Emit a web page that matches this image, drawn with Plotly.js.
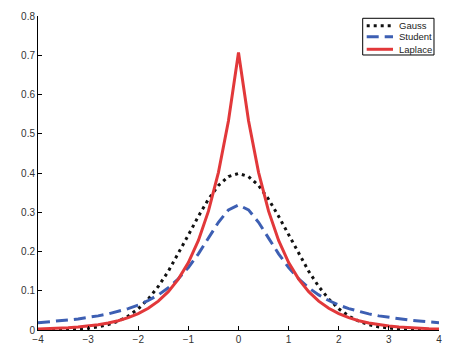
<!DOCTYPE html>
<html>
<head>
<meta charset="utf-8">
<script src="https://cdn.plot.ly/plotly-3.0.1.min.js"></script>
<style>html,body{margin:0;padding:0;background:#fff;}#chart{width:462px;height:356px;}</style>
</head>
<body>
<div id="chart"></div>
<script>
const xs = [-4,-3.8,-3.6,-3.4,-3.2,-3,-2.8,-2.6,-2.4,-2.2,-2,-1.8,-1.6,-1.4,-1.2,-1,-0.8,-0.6,-0.4,-0.2,0,
  0.2,0.4,0.6,0.8,1,1.2,1.4,1.6,1.8,2,2.2,2.4,2.6,2.8,3,3.2,3.4,3.6,3.8,4];
const gaussHalf = [0.3989,0.3910,0.3683,0.3332,0.2897,0.2420,0.1942,0.1497,0.1109,0.0790,0.0540,0.0355,0.0224,0.0136,0.0079,0.0044,0.0024,0.0012,0.0006,0.0003,0.0001];
const studentHalf = [0.3183,0.3061,0.2744,0.2341,0.1941,0.1592,0.1305,0.1075,0.0894,0.0751,0.0637,0.0545,0.0471,0.0410,0.0360,0.0318,0.0283,0.0253,0.0228,0.0206,0.0187];
const laplaceHalf = [0.7071,0.5329,0.4016,0.3027,0.2281,0.1719,0.1296,0.0976,0.0736,0.0555,0.0418,0.0315,0.0237,0.0179,0.0135,0.0102,0.0077,0.0058,0.0044,0.0033,0.0025];
const seriesNames = ["Gauss","Student","Laplace"];
const xTicks = [-4,-3,-2,-1,0,1,2,3,4];
const yTicks = [0,0.1,0.2,0.3,0.4,0.5,0.6,0.7,0.8];

function mirror(h){ return h.slice(1).reverse().concat(h); }
const gauss = mirror(gaussHalf), student = mirror(studentHalf), laplace = mirror(laplaceHalf);

const lineStyles = [
  {color: '#111111', width: 3, dash: '3px,4px'},
  {color: '#3d5fb3', width: 3, dash: '12px,6px'},
  {color: '#e2383a', width: 3}
];
const ySeries = [gauss, student, laplace];
const traces = ySeries.map((ys, i) => ({x: xs, y: ys, name: seriesNames[i], mode: 'lines', line: lineStyles[i], showlegend: false}));

// Compact legend box (paper coordinates)
const legBox = {x0: 0.8097, x1: 0.9875, y0: 0.8758, y1: 0.9927};
const legRows = [0.9691, 0.9341, 0.8940];
const shapes = [{type: 'rect', xref: 'paper', yref: 'paper', x0: legBox.x0, x1: legBox.x1, y0: legBox.y0, y1: legBox.y1,
  line: {color: '#000', width: 1}, fillcolor: '#fff', layer: 'above'}];
const annotations = [];
seriesNames.forEach((n, i) => {
  shapes.push({type: 'line', xref: 'paper', yref: 'paper', x0: 0.8197, x1: 0.8853, y0: legRows[i], y1: legRows[i],
    line: Object.assign({}, lineStyles[i]), layer: 'above'});
  annotations.push({xref: 'paper', yref: 'paper', x: 0.8953, y: legRows[i], xanchor: 'left', yanchor: 'middle',
    text: n, showarrow: false, font: {family: 'Liberation Sans, Arial, sans-serif', size: 9.5, color: '#222'}});
});

const axisCommon = {
  showline: true, linecolor: '#000', linewidth: 1, mirror: false,
  ticks: 'inside', ticklen: 4, tickcolor: '#000', tickwidth: 1,
  showgrid: false, zeroline: false,
  tickfont: {family: 'Liberation Sans, Arial, sans-serif', size: 10, color: '#333'}
};
const layout = {
  width: 462, height: 356,
  margin: {l: 38, r: 23, t: 16, b: 26},
  paper_bgcolor: '#fff', plot_bgcolor: '#fff',
  showlegend: false,
  shapes: shapes, annotations: annotations,
  xaxis: Object.assign({}, axisCommon, {range: [-4, 4], tickvals: xTicks, ticktext: xTicks.map(v => v < 0 ? '\u2212' + Math.abs(v) : String(v))}),
  yaxis: Object.assign({}, axisCommon, {range: [0, 0.8], tickvals: yTicks, ticktext: yTicks.map(v => String(v))})
};
Plotly.newPlot('chart', traces, layout, {displayModeBar: false, staticPlot: true});
</script>
</body>
</html>
